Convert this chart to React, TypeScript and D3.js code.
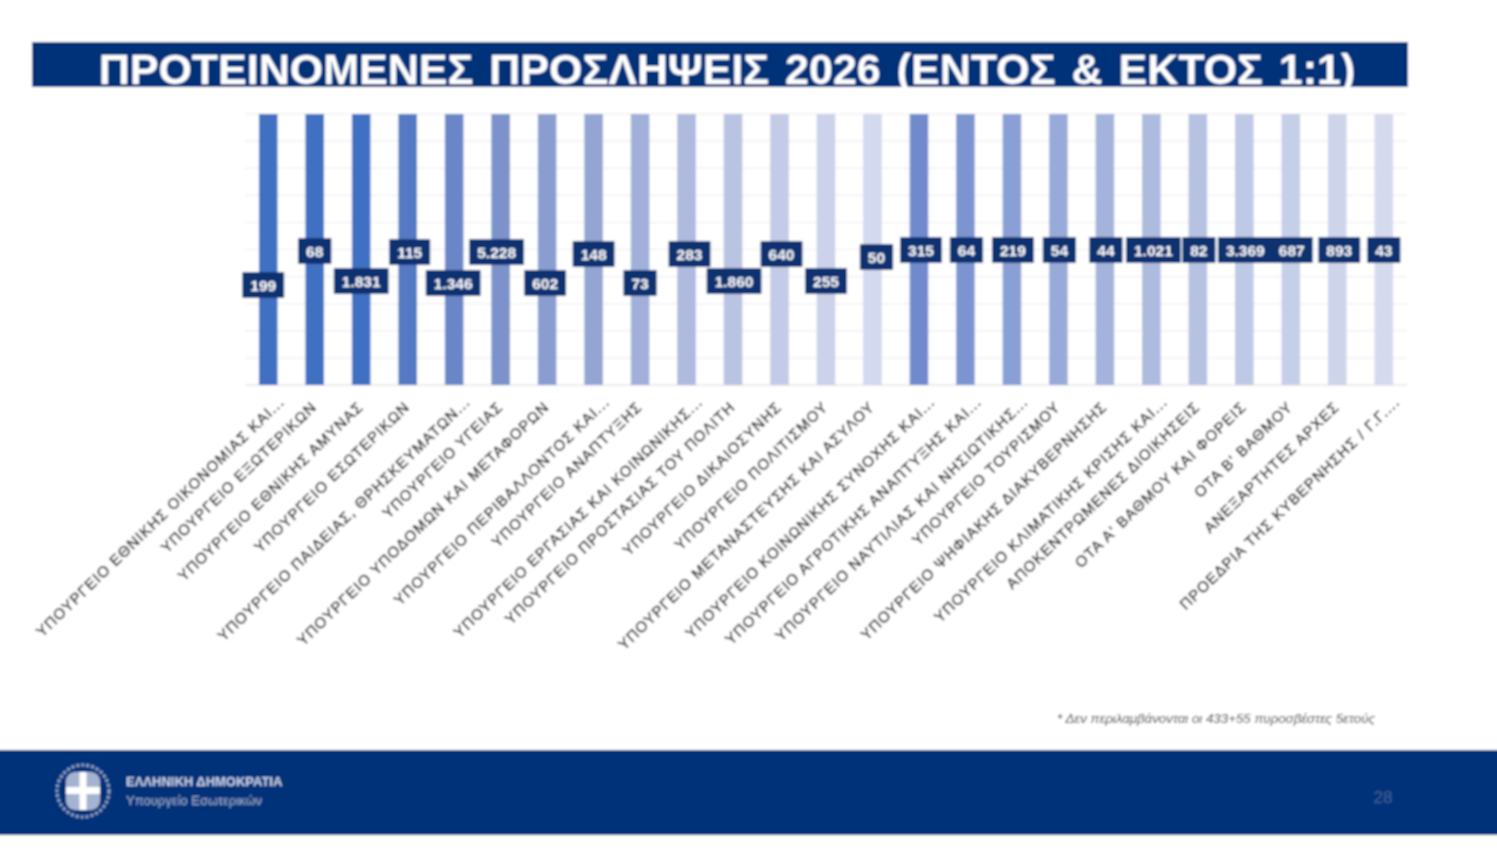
import React, { useEffect, useRef } from 'react';
import * as d3 from 'd3';

const W = 1497;
const H = 862;

const TITLE = 'ΠΡΟΤΕΙΝΟΜΕΝΕΣ ΠΡΟΣΛΗΨΕΙΣ 2026 (ΕΝΤΟΣ & ΕΚΤΟΣ 1:1)';
const FOOTNOTE = '* Δεν περιλαμβάνονται οι 433+55 πυροσβέστες 5ετούς';

const categories = [
  'ΥΠΟΥΡΓΕΙΟ ΕΘΝΙΚΗΣ ΟΙΚΟΝΟΜΙΑΣ ΚΑΙ...',
  'ΥΠΟΥΡΓΕΙΟ ΕΞΩΤΕΡΙΚΩΝ',
  'ΥΠΟΥΡΓΕΙΟ ΕΘΝΙΚΗΣ ΑΜΥΝΑΣ',
  'ΥΠΟΥΡΓΕΙΟ ΕΣΩΤΕΡΙΚΩΝ',
  'ΥΠΟΥΡΓΕΙΟ ΠΑΙΔΕΙΑΣ, ΘΡΗΣΚΕΥΜΑΤΩΝ...',
  'ΥΠΟΥΡΓΕΙΟ ΥΓΕΙΑΣ',
  'ΥΠΟΥΡΓΕΙΟ ΥΠΟΔΟΜΩΝ ΚΑΙ ΜΕΤΑΦΟΡΩΝ',
  'ΥΠΟΥΡΓΕΙΟ ΠΕΡΙΒΑΛΛΟΝΤΟΣ ΚΑΙ...',
  'ΥΠΟΥΡΓΕΙΟ ΑΝΑΠΤΥΞΗΣ',
  'ΥΠΟΥΡΓΕΙΟ ΕΡΓΑΣΙΑΣ ΚΑΙ ΚΟΙΝΩΝΙΚΗΣ...',
  'ΥΠΟΥΡΓΕΙΟ ΠΡΟΣΤΑΣΙΑΣ ΤΟΥ ΠΟΛΙΤΗ',
  'ΥΠΟΥΡΓΕΙΟ ΔΙΚΑΙΟΣΥΝΗΣ',
  'ΥΠΟΥΡΓΕΙΟ ΠΟΛΙΤΙΣΜΟΥ',
  'ΥΠΟΥΡΓΕΙΟ ΜΕΤΑΝΑΣΤΕΥΣΗΣ ΚΑΙ ΑΣΥΛΟΥ',
  'ΥΠΟΥΡΓΕΙΟ ΚΟΙΝΩΝΙΚΗΣ ΣΥΝΟΧΗΣ ΚΑΙ...',
  'ΥΠΟΥΡΓΕΙΟ ΑΓΡΟΤΙΚΗΣ ΑΝΑΠΤΥΞΗΣ ΚΑΙ...',
  'ΥΠΟΥΡΓΕΙΟ ΝΑΥΤΙΛΙΑΣ ΚΑΙ ΝΗΣΙΩΤΙΚΗΣ...',
  'ΥΠΟΥΡΓΕΙΟ ΤΟΥΡΙΣΜΟΥ',
  'ΥΠΟΥΡΓΕΙΟ ΨΗΦΙΑΚΗΣ ΔΙΑΚΥΒΕΡΝΗΣΗΣ',
  'ΥΠΟΥΡΓΕΙΟ ΚΛΙΜΑΤΙΚΗΣ ΚΡΙΣΗΣ ΚΑΙ...',
  'ΑΠΟΚΕΝΤΡΩΜΕΝΕΣ ΔΙΟΙΚΗΣΕΙΣ',
  "ΟΤΑ Α' ΒΑΘΜΟΥ ΚΑΙ ΦΟΡΕΙΣ",
  "ΟΤΑ Β' ΒΑΘΜΟΥ",
  'ΑΝΕΞΑΡΤΗΤΕΣ ΑΡΧΕΣ',
  'ΠΡΟΕΔΡΙΑ ΤΗΣ ΚΥΒΕΡΝΗΣΗΣ / Γ.Γ....',
];

// Πλήθος προσλήψεων ανά φορέα
const hires = [
  199, 68, 1831, 115, 1346, 5228, 602, 148, 73, 283, 1860, 640, 255,
  50, 315, 64, 219, 54, 44, 1021, 82, 3369, 687, 893, 43,
];

// every column fills the whole plot height in the source slide
const shares = categories.map(() => 1);

// manual label placement, the slide's labels were dragged around by hand
const labelDx = [-5, 0, 0, 2, -1, -4, -2, 0, 0, 3, 1, 2, -0, 4, 2, 1, 1, 1, 1, 2, 1, 1, 1, 2, 0];
const labelCy = [285, 251, 281, 252, 283, 252, 283, 254, 283, 254, 281, 254, 281, 257, 250, 250, 250, 250, 250, 250, 250, 250, 250, 250, 250];

const groupA = ['#3f6fc1', '#4070c2', '#4070c1', '#5479c2', '#6a86c6', '#7c92cb', '#8a9dd0', '#94a5d4', '#a1b0d9', '#aebade', '#b9c3e2', '#c3cbe6', '#cbd2e9', '#d3d9ee'];
const groupB = ['#6f8acd', '#7c95d1', '#8a9fd5', '#98aad9', '#a3b3dc', '#adbbdf', '#b6c2e2', '#bec9e5', '#c6cfe8', '#ced5eb', '#d5daee'];
const barColors = [...groupA, ...groupB];

const NAVY = '#00337a';
const SANS = '"Liberation Sans", Arial, sans-serif';

export default function App() {
  const svgRef = useRef<SVGSVGElement>(null);

  useEffect(() => {
    if (!svgRef.current) return;
    const svg = d3.select(svgRef.current);
    svg.selectAll('*').remove();

    const blur = svg.append('defs').append('filter').attr('id', 'soft')
      .attr('x', '-5%').attr('y', '-5%').attr('width', '110%').attr('height', '110%');
    blur.append('feGaussianBlur').attr('stdDeviation', 1);

    const root = svg.append('g').attr('filter', 'url(#soft)');
    root.append('rect').attr('x', -20).attr('y', -20).attr('width', W + 40).attr('height', H + 40).attr('fill', '#fff');

    /* ── Title band ───────────────────────────────────────────── */
    root.append('rect').attr('x', 32).attr('y', 42).attr('width', 1376).attr('height', 45).attr('fill', NAVY);
    root.append('text')
      .attr('x', 727).attr('y', 84)
      .attr('text-anchor', 'middle')
      .attr('font-family', SANS)
      .attr('font-weight', 700)
      .attr('font-size', 43)
      .attr('word-spacing', 4)
      .attr('fill', '#fff')
      .text(TITLE);

    /* ── Scales ───────────────────────────────────────────────── */
    const x = d3.scaleBand<string>().domain(categories).range([245, 1407]).paddingInner(0.6).paddingOuter(0.3);
    const y = d3.scaleLinear().domain([0, 1]).range([385, 114]);
    const fmt = d3.formatLocale({ decimal: ',', thousands: '.', grouping: [3], currency: ['€', ''] }).format(',d');

    /* ── Grid ─────────────────────────────────────────────────── */
    root.append('g').selectAll('line')
      .data(y.ticks(10))
      .enter().append('line')
      .attr('x1', 245).attr('x2', 1407)
      .attr('y1', d => y(d)).attr('y2', d => y(d))
      .attr('stroke', d => (d === 0 ? '#e4e4e4' : '#f1f1f1'))
      .attr('stroke-width', 1.5);

    /* ── Bars ─────────────────────────────────────────────────── */
    root.append('g').selectAll('rect')
      .data(categories)
      .enter().append('rect')
      .attr('x', d => x(d)!)
      .attr('y', (_, i) => y(shares[i]))
      .attr('width', x.bandwidth())
      .attr('height', (_, i) => y(0) - y(shares[i]))
      .attr('fill', (_, i) => barColors[i]);

    /* ── Category labels ──────────────────────────────────────── */
    root.append('g').selectAll('text')
      .data(categories)
      .enter().append('text')
      .attr('transform', d => {
        const cut = d.endsWith('...');
        const cx = x(d)! + x.bandwidth() / 2;
        return `translate(${cx + (cut ? 17 : 3)},${cut ? 403 : 408}) rotate(-44)`;
      })
      .attr('text-anchor', 'end')
      .attr('font-family', SANS)
      .attr('font-size', 15)
      .attr('letter-spacing', 1.15)
      .attr('fill', '#222')
      .attr('stroke', '#222')
      .attr('stroke-width', 0.4)
      .text(d => d);

    /* ── Value labels ─────────────────────────────────────────── */
    const labels = root.append('g').selectAll('g')
      .data(categories)
      .enter().append('g')
      .attr('transform', (d, i) => `translate(${x(d)! + x.bandwidth() / 2 + labelDx[i]},${labelCy[i]})`);

    const boxes = labels.append('rect').attr('fill', '#0b3272').attr('rx', 1);
    const texts = labels.append('text')
      .attr('text-anchor', 'middle')
      .attr('dy', '0.36em')
      .attr('font-family', SANS)
      .attr('font-weight', 700)
      .attr('font-size', 15.5)
      .attr('fill', '#fff')
      .text((_, i) => fmt(hires[i]));

    texts.each(function (_, i) {
      const tw = (this as SVGTextElement).getComputedTextLength();
      const bw = tw + 16;
      d3.select(boxes.nodes()[i]).attr('x', -bw / 2).attr('y', -13).attr('width', bw).attr('height', 26);
    });

    /* ── Footnote ─────────────────────────────────────────────── */
    root.append('text')
      .attr('x', 1057).attr('y', 723)
      .attr('font-family', SANS)
      .attr('font-style', 'italic')
      .attr('font-size', 13.3)
      .attr('fill', '#333')
      .text(FOOTNOTE);

    /* ── Footer ───────────────────────────────────────────────── */
    root.append('rect').attr('x', -20).attr('y', 750).attr('width', W + 40).attr('height', 85).attr('fill', NAVY);

    const emblem = root.append('g').attr('transform', 'translate(83,791)');
    emblem.append('circle').attr('r', 26).attr('fill', 'none').attr('stroke', '#8ea3c6').attr('stroke-width', 3).attr('stroke-dasharray', '3 2');
    emblem.append('rect').attr('x', -17).attr('y', -19).attr('width', 34).attr('height', 38).attr('rx', 9).attr('fill', '#a4b4d0');
    emblem.append('rect').attr('x', -3.5).attr('y', -19).attr('width', 7).attr('height', 38).attr('fill', '#fff');
    emblem.append('rect').attr('x', -17).attr('y', -4).attr('width', 34).attr('height', 7).attr('fill', '#fff');

    root.append('text')
      .attr('x', 126).attr('y', 786)
      .attr('font-family', SANS)
      .attr('font-weight', 700)
      .attr('font-size', 13)
      .attr('fill', '#c9d4e8')
      .text('ΕΛΛΗΝΙΚΗ ΔΗΜΟΚΡΑΤΙΑ');
    root.append('text')
      .attr('x', 126).attr('y', 805)
      .attr('font-family', SANS)
      .attr('font-size', 13)
      .attr('fill', '#9fb1d0')
      .text('Υπουργείο Εσωτερικών');
    root.append('text')
      .attr('x', 1383).attr('y', 803)
      .attr('text-anchor', 'middle')
      .attr('font-family', SANS)
      .attr('font-size', 17)
      .attr('fill', '#3f6096')
      .text('28');
  }, []);

  return (
    <svg
      ref={svgRef}
      width={W}
      height={H}
      style={{ position: 'absolute', top: 0, left: 0, display: 'block' }}
    />
  );
}
